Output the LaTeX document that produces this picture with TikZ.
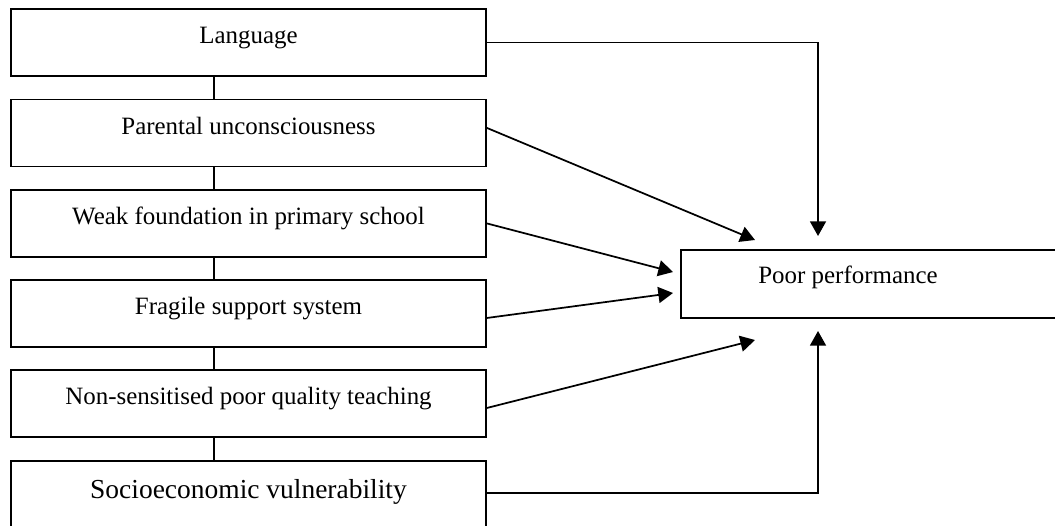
\documentclass[tikz,border=0pt]{standalone}
\usepackage{fontspec}
\setmainfont{Liberation Serif}
\usetikzlibrary{arrows.meta}

\tikzset{
  factor/.style={draw, line width=1.4pt, minimum width=356.25pt, inner xsep=0pt, inner ysep=0pt,
    text height=26.25pt, text depth=24pt, anchor=north, font=\fontsize{18.7}{22}\selectfont},
  link/.style={line width=1.3pt},
  arr/.style={line width=1.3pt, -{Triangle[length=11pt,width=12pt]}}
}

\begin{document}
\begin{tikzpicture}[x=0.75pt,y=-0.75pt]
\clip (0,0) rectangle (1055,525);

% factors on the left
\node[factor] (lang) at (248.5,8) {Language};
\node[factor] (par) at (248.5,98.5) {Parental unconsciousness};
\node[factor] (weak) at (248.5,189) {Weak foundation in primary school};
\node[factor] (frag) at (248.5,279) {Fragile support system};
\node[factor] (nonsens) at (248.5,369) {Non-sensitised poor quality teaching};
\node[factor, font=\fontsize{20.6}{24}\selectfont, text height=28.5pt, text depth=26pt] (socio) at (248.5,460) {Socioeconomic vulnerability};

\draw[link] ([xshift=-25.9pt]lang.south) -- ([xshift=-25.9pt]par.north);
\draw[link] ([xshift=-25.9pt]par.south) -- ([xshift=-25.9pt]weak.north);
\draw[link] ([xshift=-25.9pt]weak.south) -- ([xshift=-25.9pt]frag.north);
\draw[link] ([xshift=-25.9pt]frag.south) -- ([xshift=-25.9pt]nonsens.north);
\draw[link] ([xshift=-25.9pt]nonsens.south) -- ([xshift=-25.9pt]socio.north);

% outcome
\node[draw, line width=1.4pt, anchor=north west, minimum width=315pt, minimum height=51pt] (perf) at (680,249) {};
\node[anchor=base, font=\fontsize{18.7}{22}\selectfont] (perftext) at (848,283.7) {Poor performance};

\coordinate (tlang) at (818,236);
\coordinate (tpar) at (755,240);
\coordinate (tweak) at (673,272);
\coordinate (tfrag) at (673,293);
\coordinate (tnon) at (755,340);
\coordinate (tsocio) at (818,331);

\draw[arr] (lang.east) -| (tlang);
\draw[arr] ([yshift=3.75pt]par.east) -- (tpar);
\draw[arr] (weak.east) -- (tweak);
\draw[arr] ([yshift=-3.4pt]frag.east) -- (tfrag);
\draw[arr] ([yshift=-3.4pt]nonsens.east) -- (tnon);
\draw[arr] ([yshift=3.4pt]socio.east) -| (tsocio);
\end{tikzpicture}
\end{document}
